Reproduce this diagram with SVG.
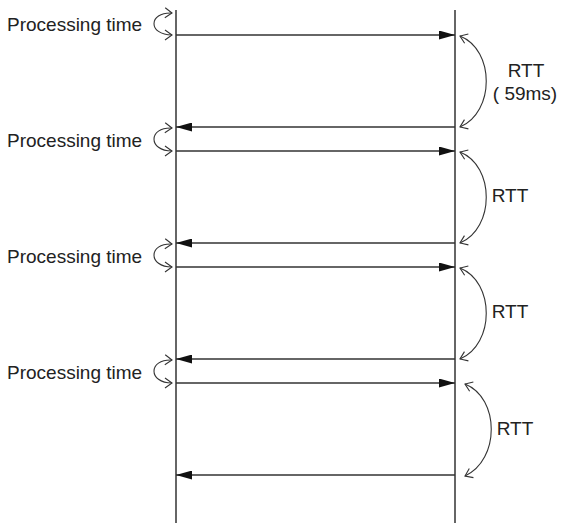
<svg xmlns="http://www.w3.org/2000/svg" width="562" height="525" viewBox="0 0 562 525">
<defs>
<marker id="fill" markerWidth="16" markerHeight="9" refX="16" refY="4.5" orient="auto" markerUnits="userSpaceOnUse">
<path d="M0,0 L16,4.5 L0,9 Z" fill="#111"/>
</marker>
<marker id="open" markerWidth="10" markerHeight="12" refX="8" refY="6" orient="auto-start-reverse" markerUnits="userSpaceOnUse">
<path d="M1,1 L8,6 L1,11" fill="none" stroke="#333" stroke-width="1.1"/>
</marker>
</defs>
<style>
.life{stroke:#333;stroke-width:1.5;fill:none}
.msg{stroke:#333;stroke-width:1.6;fill:none;marker-end:url(#fill)}
.curve{stroke:#333;stroke-width:1.1;fill:none;marker-start:url(#open);marker-end:url(#open)}
text{font-family:"Liberation Sans",Arial,sans-serif;font-size:19px;fill:#222}
</style>
<g id="lifelines">
<line class="life" x1="176" y1="10" x2="176" y2="523"/>
<line class="life" x1="455" y1="10" x2="455" y2="523"/>
</g>
<g id="connectors">
<line class="msg" x1="176" y1="35" x2="455" y2="35"/>
<line class="msg" x1="455" y1="127" x2="176" y2="127"/>
<line class="msg" x1="176" y1="151" x2="455" y2="151"/>
<line class="msg" x1="455" y1="243" x2="176" y2="243"/>
<line class="msg" x1="176" y1="267" x2="455" y2="267"/>
<line class="msg" x1="455" y1="359" x2="176" y2="359"/>
<line class="msg" x1="176" y1="383" x2="455" y2="383"/>
<line class="msg" x1="455" y1="475" x2="176" y2="475"/>
<path class="curve" d="M172,13 C148,12 148,35 172,35"/>
<path class="curve" d="M172,128 C148,127 148,151 172,151"/>
<path class="curve" d="M172,244 C148,243 148,267 172,267"/>
<path class="curve" d="M172,360 C148,359 148,383 172,383"/>
<path class="curve" d="M460,36 C495,50 495,112 460,127"/>
<path class="curve" d="M460,152 C495,166 495,228 460,243"/>
<path class="curve" d="M460,268 C495,282 495,344 460,359"/>
<path class="curve" d="M465,384 C500,398 500,460 465,476"/>
</g>
<g id="proc1"><text x="7" y="31">Processing time</text></g>
<g id="proc2"><text x="7" y="147">Processing time</text></g>
<g id="proc3"><text x="7" y="263">Processing time</text></g>
<g id="proc4"><text x="7" y="379">Processing time</text></g>
<g id="rtt1"><text x="526" y="77" text-anchor="middle">RTT</text><text x="525" y="100" text-anchor="middle">( 59ms)</text></g>
<g id="rtt2"><text x="510" y="202" text-anchor="middle">RTT</text></g>
<g id="rtt3"><text x="510" y="318" text-anchor="middle">RTT</text></g>
<g id="rtt4"><text x="515" y="435" text-anchor="middle">RTT</text></g>
</svg>
